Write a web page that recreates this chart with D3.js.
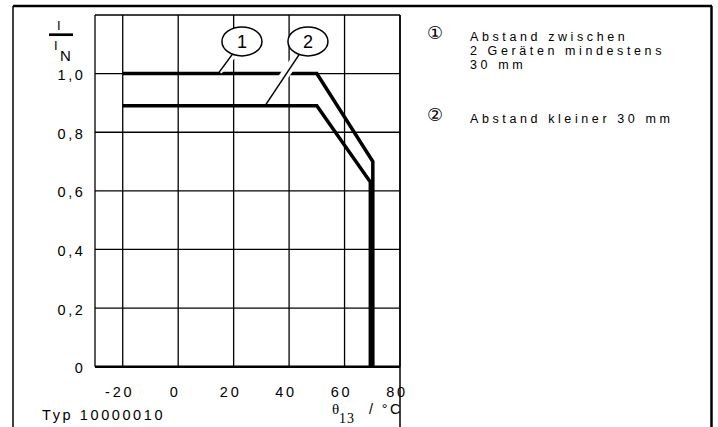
<!DOCTYPE html>
<html>
<head>
<meta charset="utf-8">
<script src="https://cdn.jsdelivr.net/npm/d3@7"></script>
<style>
body { margin: 0; background: #fff; }
text { font-family: "Liberation Sans", Arial, sans-serif; fill: #000; }
</style>
</head>
<body>
<div id="chart"></div>
<script>
// achsen
const xTicks = [-20, 0, 20, 40, 60, 80]
const yTicks = [0, 0.2, 0.4, 0.6, 0.8, 1.0]
const yTickLabels = ["0", "0,2", "0,4", "0,6", "0,8", "1,0"]
const xGrid = [-30, -20, 0, 20, 40, 60, 80]
const yGrid = [0, 0.2, 0.4, 0.6, 0.8, 1.0, 1.2]

// kennlinien (temperatur, I/IN)
const curve1 = [[-20, 1.0], [50, 1.0], [70.2, 0.7], [70.2, 0]]
const curve2 = [[-20, 0.89], [50, 0.89], [69.3, 0.63], [69.3, 0]]

// beschriftung der kurven: mittelpunkt der ellipse und endpunkt der hinweislinie
const markerNames = ["1", "2"]
const markerPos = [[23, 1.11], [46.8, 1.11]]
const markerTarget = [[14.4, 1.0], [31.3, 0.89]]

const legendSymbols = ["\u2460", "\u2461"]
const legendTexts = [["Abstand zwischen", "2 Geräten mindestens", "30 mm"], ["Abstand kleiner 30 mm"]]
const typText = "Typ 10000010"

const width = 718, height = 427
const svg = d3.select("#chart").append("svg")
    .attr("width", width)
    .attr("height", height)

const x = d3.scaleLinear().domain([-30, 80]).range([95, 400])
const y = d3.scaleLinear().domain([0, 1.2]).range([366.7, 15])

// rahmen
const frame = svg.append("g").attr("fill", "none").attr("stroke", "#000")
frame.append("line").attr("x1", 13).attr("x2", 712).attr("y1", 6).attr("y2", 6).attr("stroke-width", 2.5)
frame.append("line").attr("x1", 13).attr("x2", 13).attr("y1", 6).attr("y2", height).attr("stroke-width", 1.5)
frame.append("line").attr("x1", 711.5).attr("x2", 711.5).attr("y1", 6).attr("y2", height).attr("stroke-width", 2.5)
frame.append("line").attr("x1", x(80)).attr("x2", x(80)).attr("y1", y(1.2)).attr("y2", height).attr("stroke-width", 1.5)

// gitter
const grid = svg.append("g").attr("stroke", "#000").attr("stroke-width", 1.3)
grid.selectAll(".vg").data(xGrid).enter().append("line")
    .attr("x1", d => x(d)).attr("x2", d => x(d))
    .attr("y1", y(1.2)).attr("y2", y(0))
grid.selectAll(".hg").data(yGrid).enter().append("line")
    .attr("x1", x(-30)).attr("x2", x(80))
    .attr("y1", d => y(d)).attr("y2", d => y(d))
svg.append("line").attr("stroke", "#000").attr("stroke-width", 2.5)
    .attr("x1", x(-30)).attr("x2", x(80)).attr("y1", y(0)).attr("y2", y(0))

// achsbeschriftung
svg.append("g").selectAll("text").data(yTicks).enter().append("text")
    .attr("x", 85.5).attr("y", d => y(d)).attr("dy", "0.45em")
    .attr("text-anchor", "end")
    .style("font-size", "14.5px").style("letter-spacing", "2.6px")
    .text((d, i) => yTickLabels[i])

svg.append("g").selectAll("text").data(xTicks).enter().append("text")
    .attr("x", d => x(d) - 3).attr("y", 397)
    .attr("text-anchor", "middle")
    .style("font-size", "14.5px").style("letter-spacing", "2.8px")
    .text(d => d)

svg.append("text").attr("x", 42).attr("y", 420)
    .style("font-size", "14.5px").style("letter-spacing", "2.6px")
    .text(typText)

// theta_13 / °C
svg.append("text").attr("x", 332).attr("y", 414)
    .style("font-family", "'Liberation Serif', serif").style("font-size", "15px")
    .text("\u03b8")
svg.append("text").attr("x", 339).attr("y", 423)
    .style("font-family", "'Liberation Serif', serif").style("font-size", "14px").style("letter-spacing", "1px")
    .text("13")
svg.append("text").attr("x", 369).attr("y", 414)
    .style("font-size", "14.5px").style("letter-spacing", "2.4px")
    .text("/ \u00b0C")

// I / IN
svg.append("text").attr("x", 57).attr("y", 30).style("font-size", "13px").text("I")
svg.append("line").attr("x1", 49).attr("x2", 73).attr("y1", 34.7).attr("y2", 34.7)
    .attr("stroke", "#000").attr("stroke-width", 2.7)
svg.append("text").attr("x", 54).attr("y", 50).style("font-size", "13px").text("I")
svg.append("text").attr("x", 60).attr("y", 61).style("font-size", "15px").text("N")

// kurven
const line = d3.line().x(d => x(d[0])).y(d => y(d[1]))
svg.append("path").datum(curve1).attr("d", line)
    .attr("fill", "none").attr("stroke", "#000").attr("stroke-width", 3.5)

// hinweislinien mit weissem rand
function leaderPts(i) {
    const cx = x(markerPos[i][0]), cy = y(markerPos[i][1])
    const tx = x(markerTarget[i][0]), ty = y(markerTarget[i][1])
    const rx = 20, ry = 14.5
    const dx = tx - cx, dy = ty - cy
    const k = 1 / Math.sqrt((dx * dx) / (rx * rx) + (dy * dy) / (ry * ry))
    return [[cx + dx * k, cy + dy * k], [tx, ty]]
}
const leaders = svg.append("g")
leaders.selectAll(".halo").data(markerNames).enter().append("line")
    .attr("x1", (d, i) => leaderPts(i)[0][0]).attr("y1", (d, i) => leaderPts(i)[0][1])
    .attr("x2", (d, i) => leaderPts(i)[1][0]).attr("y2", (d, i) => leaderPts(i)[1][1] - 3)
    .attr("stroke", "#fff").attr("stroke-width", 9)

svg.append("path").datum(curve2).attr("d", line)
    .attr("fill", "none").attr("stroke", "#000").attr("stroke-width", 3.5)

leaders.selectAll(".ld").data(markerNames).enter().append("line")
    .attr("x1", (d, i) => leaderPts(i)[0][0]).attr("y1", (d, i) => leaderPts(i)[0][1])
    .attr("x2", (d, i) => leaderPts(i)[1][0]).attr("y2", (d, i) => leaderPts(i)[1][1])
    .attr("stroke", "#000").attr("stroke-width", 1.5)

const markers = svg.append("g").selectAll("g").data(markerNames).enter().append("g")
    .attr("transform", (d, i) => `translate(${x(markerPos[i][0])},${y(markerPos[i][1])})`)
markers.append("ellipse").attr("rx", 20).attr("ry", 14.5)
    .attr("fill", "#fff").attr("stroke", "#000").attr("stroke-width", 1.5)
markers.append("text").attr("text-anchor", "middle").attr("dy", "0.36em")
    .style("font-size", "18px").text(d => d)

// legende
const legendY = [32, 114]
const legend = svg.append("g").selectAll("g").data(legendSymbols).enter().append("g")
    .attr("transform", (d, i) => `translate(427, ${legendY[i]})`)
legend.append("text").attr("y", 7)
    .style("font-family", "'DejaVu Sans', 'Noto Sans CJK JP', sans-serif").style("font-size", "18px")
    .text(d => d)
legend.each(function(d, i) {
    d3.select(this).selectAll(".lt").data(legendTexts[i]).enter().append("text")
        .attr("x", 43).attr("y", (t, j) => 9 + j * 14.1)
        .style("font-size", "12.5px").style("letter-spacing", "3.6px")
        .text(t => t)
})
</script>
</body>
</html>
